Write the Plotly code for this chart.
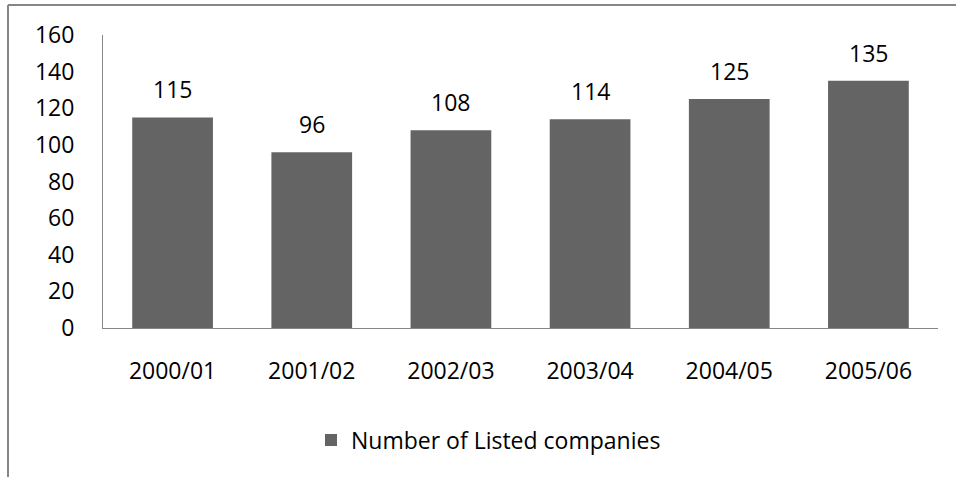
import plotly.graph_objects as go

categories = ["2000/01", "2001/02", "2002/03", "2003/04", "2004/05", "2005/06"]
values = [115, 96, 108, 114, 125, 135]
series_name = "Number of Listed companies"
y_ticks = [0, 20, 40, 60, 80, 100, 120, 140, 160]

FONT = "Open Sans"
FS = 23
W, H = 956, 477
L, R, T, B = 103, 18, 35, 149
pw, ph = W - L - R, H - T - B

def px_x(x):
    return (x - L) / pw

def px_y(y):
    return (H - B - y) / ph

fig = go.Figure()
fig.add_trace(go.Bar(
    x=categories, y=values, name=series_name,
    marker=dict(color="#646464", line=dict(width=0)),
    showlegend=True,
))

for c, v in zip(categories, values):
    fig.add_annotation(x=c, y=v, text=str(v), showarrow=False,
                       yanchor="bottom", yshift=10,
                       font=dict(family=FONT, size=FS, color="#000"))

fig.update_layout(
    width=W, height=H,
    margin=dict(l=L, r=R, t=T, b=B),
    paper_bgcolor="white", plot_bgcolor="white",
    bargap=0.42,
    font=dict(family=FONT, size=FS, color="#000"),
    xaxis=dict(showline=True, linecolor="#868686", linewidth=1,
               showgrid=False, ticks="", ticklabelstandoff=22,
               tickfont=dict(family=FONT, size=FS)),
    yaxis=dict(range=[0, 160], tickvals=y_ticks, showline=True,
               linecolor="#868686", linewidth=1, showgrid=False,
               zeroline=False, ticks="", ticklabelstandoff=23,
               tickfont=dict(family=FONT, size=FS)),
    legend=dict(orientation="h", x=px_x(311), xanchor="left",
                y=px_y(440), yanchor="middle",
                font=dict(family=FONT, size=FS),
                itemwidth=30, tracegroupgap=0),
    shapes=[
        dict(type="line", xref="paper", yref="paper",
             x0=px_x(8), x1=px_x(956), y0=px_y(5), y1=px_y(5),
             line=dict(color="#868686", width=2)),
        dict(type="line", xref="paper", yref="paper",
             x0=px_x(8), x1=px_x(8), y0=px_y(5), y1=px_y(477),
             line=dict(color="#868686", width=2)),
    ],
)

fig.write_html("out.html")
